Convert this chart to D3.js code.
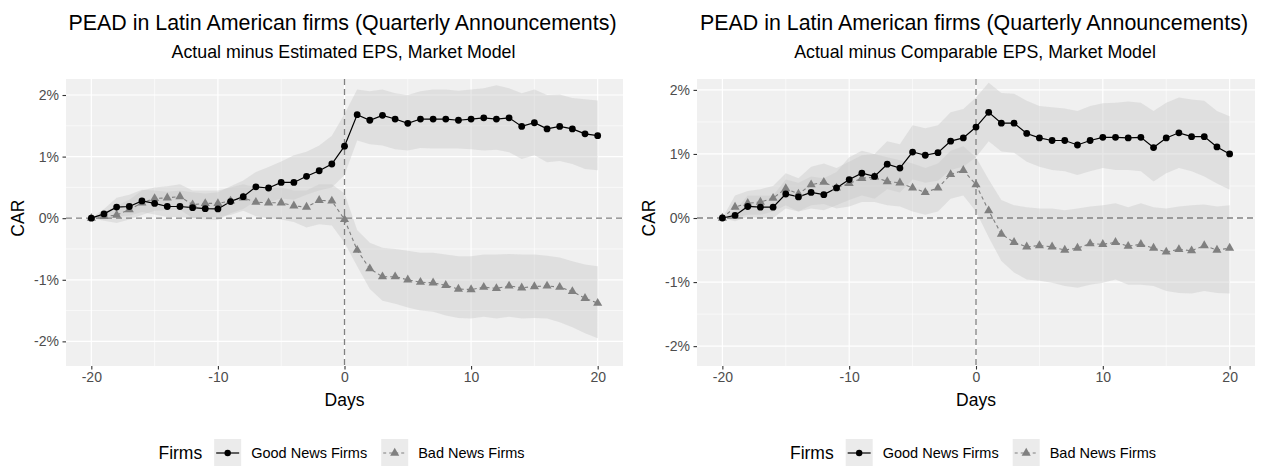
<!DOCTYPE html>
<html><head><meta charset="utf-8">
<script src="https://cdn.jsdelivr.net/npm/d3@7"></script>
<style>
body{margin:0;background:#fff}
svg{display:block}
text{font-family:"Liberation Sans",Arial,Helvetica,sans-serif}
</style>
</head><body>
<svg id="chart" width="1277" height="466"></svg>
<script>
// ---------------- DATA ----------------
const days = [-20,-19,-18,-17,-16,-15,-14,-13,-12,-11,-10,-9,-8,-7,-6,-5,-4,-3,-2,-1,0,
              1,2,3,4,5,6,7,8,9,10,11,12,13,14,15,16,17,18,19,20];
const xTicks = [-20,-10,0,10,20];
const yTicks = [-2,-1,0,1,2];
const yTickLabels = ["-2%","-1%","0%","1%","2%"];
const seriesNames = ["Good News Firms","Bad News Firms"];
const legendTitle = "Firms";
const titleText = "PEAD in Latin American firms (Quarterly Announcements)";
const subtitles = ["Actual minus Estimated EPS, Market Model","Actual minus Comparable EPS, Market Model"];
const xLabel = "Days";
const yLabel = "CAR";

// Left panel (Estimated EPS) - CAR in %
const leftGood = [0,0.07,0.18,0.19,0.28,0.24,0.19,0.19,0.17,0.155,0.15,0.27,0.35,0.51,0.49,0.58,0.58,0.68,0.77,0.88,1.17,
  1.68,1.59,1.67,1.61,1.54,1.61,1.61,1.61,1.59,1.61,1.63,1.61,1.63,1.49,1.55,1.45,1.49,1.45,1.37,1.34];
const leftBad = [0,0.03,0.05,0.14,0.25,0.32,0.33,0.35,0.22,0.24,0.24,0.28,0.33,0.26,0.25,0.25,0.20,0.18,0.29,0.28,-0.02,
  -0.52,-0.82,-0.95,-0.95,-1.00,-1.04,-1.05,-1.09,-1.15,-1.16,-1.12,-1.14,-1.10,-1.13,-1.11,-1.10,-1.12,-1.19,-1.30,-1.38];
const leftGoodLo = [0,-0.02,0.03,0.04,0.10,0.06,0.02,0.02,0.00,-0.02,-0.03,0.08,0.15,0.28,0.26,0.32,0.30,0.38,0.45,0.50,0.70,
  1.26,1.20,1.18,1.12,1.10,1.14,1.13,1.13,1.13,1.12,1.10,1.11,1.07,0.96,1.02,0.91,0.93,0.88,0.80,0.78];
const leftGoodHi = [0,0.15,0.33,0.38,0.46,0.45,0.43,0.45,0.42,0.40,0.42,0.52,0.61,0.75,0.83,0.92,1.02,1.08,1.18,1.34,1.69,
  2.09,2.06,2.09,2.03,2.00,2.06,2.09,2.09,2.07,2.09,2.11,2.16,2.11,2.03,2.09,2.00,2.01,1.95,1.93,1.91];
const leftBadLo = [0,-0.04,-0.08,-0.02,0.05,0.12,0.13,0.14,0.00,0.02,0.02,0.05,0.12,0.03,0.00,-0.02,-0.06,-0.15,-0.10,-0.12,-0.40,
  -0.78,-1.15,-1.34,-1.39,-1.45,-1.50,-1.52,-1.58,-1.62,-1.63,-1.60,-1.63,-1.60,-1.63,-1.62,-1.63,-1.69,-1.77,-1.87,-1.95];
const leftBadHi = [0,0.10,0.20,0.30,0.45,0.50,0.52,0.55,0.45,0.45,0.45,0.50,0.55,0.50,0.50,0.50,0.45,0.45,0.55,0.55,0.40,
  -0.19,-0.40,-0.48,-0.50,-0.53,-0.56,-0.56,-0.59,-0.62,-0.62,-0.59,-0.59,-0.58,-0.59,-0.59,-0.61,-0.64,-0.70,-0.75,-0.78];

// Right panel (Comparable EPS)
const rightGood = [0,0.04,0.18,0.17,0.17,0.375,0.33,0.40,0.365,0.47,0.60,0.70,0.65,0.84,0.78,1.03,0.98,1.02,1.20,1.25,1.42,
  1.65,1.48,1.48,1.32,1.25,1.21,1.21,1.14,1.21,1.26,1.26,1.25,1.26,1.10,1.25,1.33,1.27,1.27,1.11,1.00];
const rightBad = [0,0.17,0.23,0.25,0.31,0.46,0.375,0.52,0.56,0.47,0.54,0.62,0.64,0.57,0.55,0.47,0.40,0.47,0.68,0.745,0.52,
  0.115,-0.25,-0.38,-0.45,-0.43,-0.45,-0.50,-0.47,-0.40,-0.41,-0.38,-0.44,-0.41,-0.47,-0.53,-0.49,-0.51,-0.43,-0.50,-0.47];
const rightGoodLo = [0,-0.05,0.02,0.00,0.00,0.15,0.10,0.15,0.12,0.20,0.28,0.35,0.30,0.45,0.40,0.60,0.55,0.58,0.75,0.80,0.95,
  1.20,1.04,1.02,0.88,0.80,0.75,0.73,0.67,0.73,0.78,0.75,0.75,0.73,0.57,0.70,0.78,0.73,0.65,0.54,0.44];
const rightGoodHi = [0,0.12,0.35,0.35,0.35,0.60,0.55,0.65,0.62,0.72,0.95,1.05,1.00,1.20,1.15,1.45,1.40,1.45,1.65,1.70,1.88,
  2.11,1.95,1.94,1.83,1.75,1.73,1.71,1.67,1.75,1.79,1.80,1.82,1.80,1.67,1.80,1.88,1.85,1.83,1.67,1.59];
const rightBadLo = [0,0.00,0.05,0.05,0.10,0.20,0.10,0.20,0.22,0.15,0.18,0.25,0.25,0.20,0.18,0.10,0.05,0.10,0.30,0.35,0.10,
  -0.30,-0.67,-0.85,-0.96,-0.98,-1.01,-1.06,-1.09,-1.04,-1.01,-0.96,-1.04,-1.04,-1.06,-1.14,-1.17,-1.18,-1.14,-1.17,-1.18];
const rightBadHi = [0,0.35,0.42,0.45,0.50,0.70,0.62,0.80,0.85,0.78,0.88,0.98,1.00,0.95,0.90,0.85,0.78,0.85,1.05,1.12,0.95,
  0.60,0.28,0.20,0.17,0.15,0.15,0.12,0.15,0.18,0.20,0.23,0.17,0.23,0.17,0.15,0.18,0.20,0.21,0.18,0.20];

// ---------------- DRAW ----------------
const svg = d3.select("#chart");
const PANEL_BG = "#f0f0f0";
const BAND_FILL = "#c8c8c8";
const BAND_OP = 0.42;
const GRAY = "#808080";

function drawPanel(o) {
  const g = svg.append("g");
  const x = d3.scaleLinear().domain([-22, 22]).range([o.x0, o.x1]);
  const y = d3.scaleLinear().domain(o.yDom).range([o.y1, o.y0]);
  const cx = (o.x0 + o.x1) / 2;

  // Titles
  svg.append("text").attr("x", cx - 2).attr("y", 30).attr("text-anchor", "middle")
    .attr("font-size", "21.4px").attr("fill", "#000").text(titleText);
  svg.append("text").attr("x", cx - 1).attr("y", 58).attr("text-anchor", "middle")
    .attr("font-size", "17.8px").attr("fill", "#000").text(o.subtitle);

  // Panel bg
  g.append("rect").attr("x", o.x0).attr("y", o.y0).attr("width", o.x1 - o.x0).attr("height", o.y1 - o.y0)
    .attr("fill", PANEL_BG);

  // minor grid
  const xMinor = [-15, -5, 5, 15], yMinor = [-1.5, -0.5, 0.5, 1.5];
  g.selectAll(".xm").data(xMinor).join("line").attr("x1", d => x(d)).attr("x2", d => x(d))
    .attr("y1", o.y0).attr("y2", o.y1).attr("stroke", "#fff").attr("stroke-width", 0.6);
  g.selectAll(".ym").data(yMinor).join("line").attr("y1", d => y(d)).attr("y2", d => y(d))
    .attr("x1", o.x0).attr("x2", o.x1).attr("stroke", "#fff").attr("stroke-width", 0.6);
  // major grid
  g.selectAll(".xg").data(xTicks).join("line").attr("x1", d => x(d)).attr("x2", d => x(d))
    .attr("y1", o.y0).attr("y2", o.y1).attr("stroke", "#fff").attr("stroke-width", 1.2);
  g.selectAll(".yg").data(yTicks).join("line").attr("y1", d => y(d)).attr("y2", d => y(d))
    .attr("x1", o.x0).attr("x2", o.x1).attr("stroke", "#fff").attr("stroke-width", 1.2);

  const goodPts = days.map((d, i) => ({ d, v: o.good[i], lo: o.goodLo[i], hi: o.goodHi[i] }));
  const badPts = days.map((d, i) => ({ d, v: o.bad[i], lo: o.badLo[i], hi: o.badHi[i] }));

  const area = d3.area().x(p => x(p.d)).y0(p => y(p.lo)).y1(p => y(p.hi));
  g.append("path").datum(goodPts).attr("d", area).attr("fill", BAND_FILL).attr("fill-opacity", BAND_OP);
  g.append("path").datum(badPts).attr("d", area).attr("fill", BAND_FILL).attr("fill-opacity", BAND_OP);

  // zero lines
  g.append("line").attr("x1", o.x0).attr("x2", o.x1).attr("y1", y(0)).attr("y2", y(0))
    .attr("stroke", GRAY).attr("stroke-width", 1.3).attr("stroke-dasharray", "6,4");
  g.append("line").attr("x1", x(0)).attr("x2", x(0)).attr("y1", o.y0).attr("y2", o.y1)
    .attr("stroke", GRAY).attr("stroke-width", 1.3).attr("stroke-dasharray", "6,4");

  const line = d3.line().x(p => x(p.d)).y(p => y(p.v));
  g.append("path").datum(badPts).attr("d", line).attr("fill", "none").attr("stroke", GRAY)
    .attr("stroke-width", 1.1).attr("stroke-dasharray", "3.5,3");
  g.append("path").datum(goodPts).attr("d", line).attr("fill", "none").attr("stroke", "#000")
    .attr("stroke-width", 1.2);

  const tri = d3.symbol().type(d3.symbolTriangle).size(36);
  g.selectAll(".tri").data(badPts).join("path").attr("d", tri)
    .attr("transform", p => `translate(${x(p.d)},${y(p.v)})`).attr("fill", GRAY);
  g.selectAll(".dot").data(goodPts).join("circle").attr("cx", p => x(p.d)).attr("cy", p => y(p.v))
    .attr("r", 3.4).attr("fill", "#000");

  // axes
  const ax = svg.append("g").attr("transform", `translate(0,${o.y1})`)
    .call(d3.axisBottom(x).tickValues(xTicks).tickFormat(d => String(d)).tickSize(3.5).tickPadding(3));
  const ay = svg.append("g").attr("transform", `translate(${o.x0},0)`)
    .call(d3.axisLeft(y).tickValues(yTicks).tickFormat(d => yTickLabels[yTicks.indexOf(d)]).tickSize(3.5).tickPadding(3.5));
  [ax, ay].forEach(a => {
    a.select(".domain").remove();
    a.selectAll(".tick line").attr("stroke", "#333").attr("stroke-width", 1.1);
    a.selectAll(".tick text").attr("fill", "#4d4d4d").attr("font-size", "14px")
      .attr("font-family", "Liberation Sans, Arial, sans-serif");
  });

  svg.append("text").attr("x", cx).attr("y", 406).attr("text-anchor", "middle")
    .attr("font-size", "17.5px").attr("fill", "#000").text(xLabel);
  svg.append("text").attr("transform", `translate(${o.x0 - 42},${y(0)}) rotate(-90)`)
    .attr("text-anchor", "middle").attr("font-size", "17.5px").attr("fill", "#000").text(yLabel);

  // legend
  const lg = svg.append("g");
  const ly = 453;
  const t0 = lg.append("text").attr("x", 0).attr("y", ly).attr("dy", "0.35em")
    .attr("font-size", "17.5px").text(legendTitle);
  let cur = t0.node().getComputedTextLength() + 12;
  const keyW = 27, keyH = 28;
  seriesNames.forEach((name, i) => {
    lg.append("rect").attr("x", cur).attr("y", ly - 14).attr("width", keyW).attr("height", keyH).attr("fill", "#ebebeb");
    const kx = cur + keyW / 2;
    if (i === 0) {
      lg.append("line").attr("x1", cur + 2).attr("x2", cur + keyW - 2).attr("y1", ly).attr("y2", ly)
        .attr("stroke", "#000").attr("stroke-width", 1.2);
      lg.append("circle").attr("cx", kx).attr("cy", ly).attr("r", 3.2).attr("fill", "#000");
    } else {
      lg.append("line").attr("x1", cur + 2).attr("x2", cur + keyW - 2).attr("y1", ly).attr("y2", ly)
        .attr("stroke", GRAY).attr("stroke-width", 1.1).attr("stroke-dasharray", "3,3");
      lg.append("path").attr("d", tri).attr("transform", `translate(${kx},${ly})`).attr("fill", GRAY);
    }
    cur += keyW + 10;
    const t = lg.append("text").attr("x", cur).attr("y", ly).attr("dy", "0.35em")
      .attr("font-size", "14.5px").text(name);
    cur += t.node().getComputedTextLength() + 14;
  });
  const total = cur - 14;
  lg.attr("transform", `translate(${cx - 3 - total / 2},0)`);
}

drawPanel({ x0: 66, x1: 623, y0: 79, y1: 366, yDom: [-2.40, 2.26], subtitle: subtitles[0],
  good: leftGood, bad: leftBad, goodLo: leftGoodLo, goodHi: leftGoodHi, badLo: leftBadLo, badHi: leftBadHi });
drawPanel({ x0: 697, x1: 1255, y0: 79, y1: 366, yDom: [-2.31, 2.17], subtitle: subtitles[1],
  good: rightGood, bad: rightBad, goodLo: rightGoodLo, goodHi: rightGoodHi, badLo: rightBadLo, badHi: rightBadHi });
</script>
</body></html>
